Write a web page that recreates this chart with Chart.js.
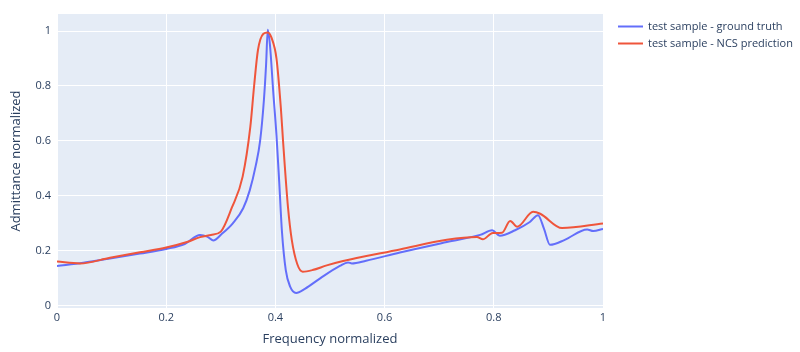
<!DOCTYPE html>
<html>
<head>
<meta charset="utf-8">
<script src="https://cdn.jsdelivr.net/npm/chart.js@4"></script>
<style>
  html, body { margin: 0; padding: 0; background: #fff; }
  #wrap { width: 800px; height: 352px; }
</style>
</head>
<body>
<div id="wrap"><canvas id="chart"></canvas></div>
<script>
// values
var truthX = [0, 0.048, 0.097, 0.152, 0.2, 0.234, 0.262, 0.275, 0.286, 0.302, 0.322, 0.341, 0.353, 0.364, 0.372, 0.379, 0.383, 0.386,
  0.39, 0.396, 0.402, 0.407, 0.412, 0.419, 0.427, 0.438, 0.454, 0.482, 0.518, 0.533, 0.54, 0.566, 0.628, 0.714, 0.775, 0.797,
  0.811, 0.839, 0.866, 0.881, 0.892, 0.903, 0.93, 0.971, 0.982, 1];
var truthY = [0.145, 0.157, 0.172, 0.19, 0.207, 0.225, 0.258, 0.252, 0.238, 0.262, 0.3, 0.355, 0.42, 0.51, 0.6, 0.75, 0.88, 1.005,
  0.95, 0.78, 0.62, 0.45, 0.27, 0.13, 0.07, 0.047, 0.062, 0.1, 0.145, 0.158, 0.154, 0.164, 0.194, 0.232, 0.258, 0.275,
  0.255, 0.275, 0.305, 0.33, 0.28, 0.222, 0.24, 0.278, 0.272, 0.28];

var predX = [0, 0.042, 0.097, 0.152, 0.2, 0.238, 0.262, 0.282, 0.3, 0.32, 0.34, 0.354, 0.361, 0.368, 0.378, 0.386, 0.393, 0.402, 0.41,
  0.414, 0.423, 0.43, 0.44, 0.45, 0.468, 0.494, 0.524, 0.628, 0.714, 0.769, 0.78, 0.798, 0.815, 0.83, 0.843, 0.872, 0.885,
  0.925, 1];
var predY = [0.161, 0.154, 0.175, 0.195, 0.212, 0.232, 0.25, 0.258, 0.27, 0.356, 0.47, 0.65, 0.8, 0.93, 0.99, 0.995, 0.975, 0.9, 0.72,
  0.6, 0.36, 0.24, 0.152, 0.124, 0.13, 0.147, 0.163, 0.205, 0.24, 0.25, 0.242, 0.265, 0.266, 0.309, 0.288, 0.342, 0.335,
  0.283, 0.3];

var xTicks = [0, 0.2, 0.4, 0.6, 0.8, 1];
var yTicks = [0, 0.2, 0.4, 0.6, 0.8, 1];

var seriesNames = ["test sample - ground truth", "test sample - NCS prediction"];
var seriesColors = ["#636efa", "#ef553b"];

function toPoints(xs, ys) {
  var pts = [];
  for (var i = 0; i < xs.length; ++i) {
    pts.push({ x: xs[i], y: ys[i] });
  }
  return pts;
}

var fontFamily = "'Open Sans', 'Noto Sans', sans-serif";
var textColor = "#2a3f5f";

// plot background like plotly
var plotBg = {
  id: "plotBg",
  beforeDraw: function (chart) {
    var a = chart.chartArea;
    var ctx = chart.ctx;
    ctx.save();
    ctx.fillStyle = "#e5ecf6";
    ctx.fillRect(a.left, a.top, a.right - a.left, a.bottom - a.top);
    ctx.restore();
  }
};

// legend at the right, drawn by hand
var sideLegend = {
  id: "sideLegend",
  afterDraw: function (chart) {
    var ctx = chart.ctx;
    ctx.save();
    ctx.font = "11px " + fontFamily;
    ctx.textBaseline = "middle";
    ctx.textAlign = "left";
    for (var i = 0; i < seriesNames.length; ++i) {
      var y = 26.5 + i * 17;
      ctx.strokeStyle = seriesColors[i];
      ctx.lineWidth = 2;
      ctx.beginPath();
      ctx.moveTo(618, y);
      ctx.lineTo(643, y);
      ctx.stroke();
      ctx.fillStyle = textColor;
      ctx.fillText(seriesNames[i], 648, y);
    }
    ctx.restore();
  }
};

var ctx = document.getElementById("chart").getContext("2d");
var chart = new Chart(ctx, {
  type: "line",
  data: {
    datasets: [
      {
        label: seriesNames[0],
        data: toPoints(truthX, truthY),
        borderColor: seriesColors[0],
        borderWidth: 2,
        pointRadius: 0,
        cubicInterpolationMode: "monotone",
        order: 2
      },
      {
        label: seriesNames[1],
        data: toPoints(predX, predY),
        borderColor: seriesColors[1],
        borderWidth: 2,
        pointRadius: 0,
        cubicInterpolationMode: "monotone",
        order: 1
      }
    ]
  },
  options: {
    responsive: true,
    maintainAspectRatio: false,
    animation: false,
    layout: { padding: { left: 0, right: 197, top: 14, bottom: 0 } },
    plugins: {
      legend: { display: false },
      tooltip: { enabled: false }
    },
    scales: {
      x: {
        type: "linear",
        min: 0,
        max: 1,
        afterBuildTicks: function (axis) {
          axis.ticks = xTicks.map(function (v) { return { value: v }; });
        },
        afterFit: function (axis) { axis.height = 44; },
        grid: { color: "#ffffff", lineWidth: 1, drawTicks: false },
        border: { display: false },
        ticks: {
          padding: 3,
          color: textColor,
          font: { family: fontFamily, size: 11 },
          maxRotation: 0,
          callback: function (v) { return String(Math.round(v * 10) / 10); }
        },
        title: {
          display: true,
          text: "Frequency normalized",
          color: textColor,
          font: { family: fontFamily, size: 13 },
          padding: { top: 4, bottom: 5 }
        }
      },
      y: {
        type: "linear",
        min: -0.008,
        max: 1.062,
        afterBuildTicks: function (axis) {
          axis.ticks = yTicks.map(function (v) { return { value: v }; });
        },
        afterFit: function (axis) { axis.width = 57; },
        grid: { color: "#ffffff", lineWidth: 1, drawTicks: false },
        border: { display: false },
        ticks: {
          padding: 6,
          color: textColor,
          font: { family: fontFamily, size: 11 },
          callback: function (v) { return String(Math.round(v * 10) / 10); }
        },
        title: {
          display: true,
          text: "Admittance normalized",
          color: textColor,
          font: { family: fontFamily, size: 13 },
          padding: { top: 8, bottom: 4 }
        }
      }
    }
  },
  plugins: [plotBg, sideLegend]
});
</script>
</body>
</html>
